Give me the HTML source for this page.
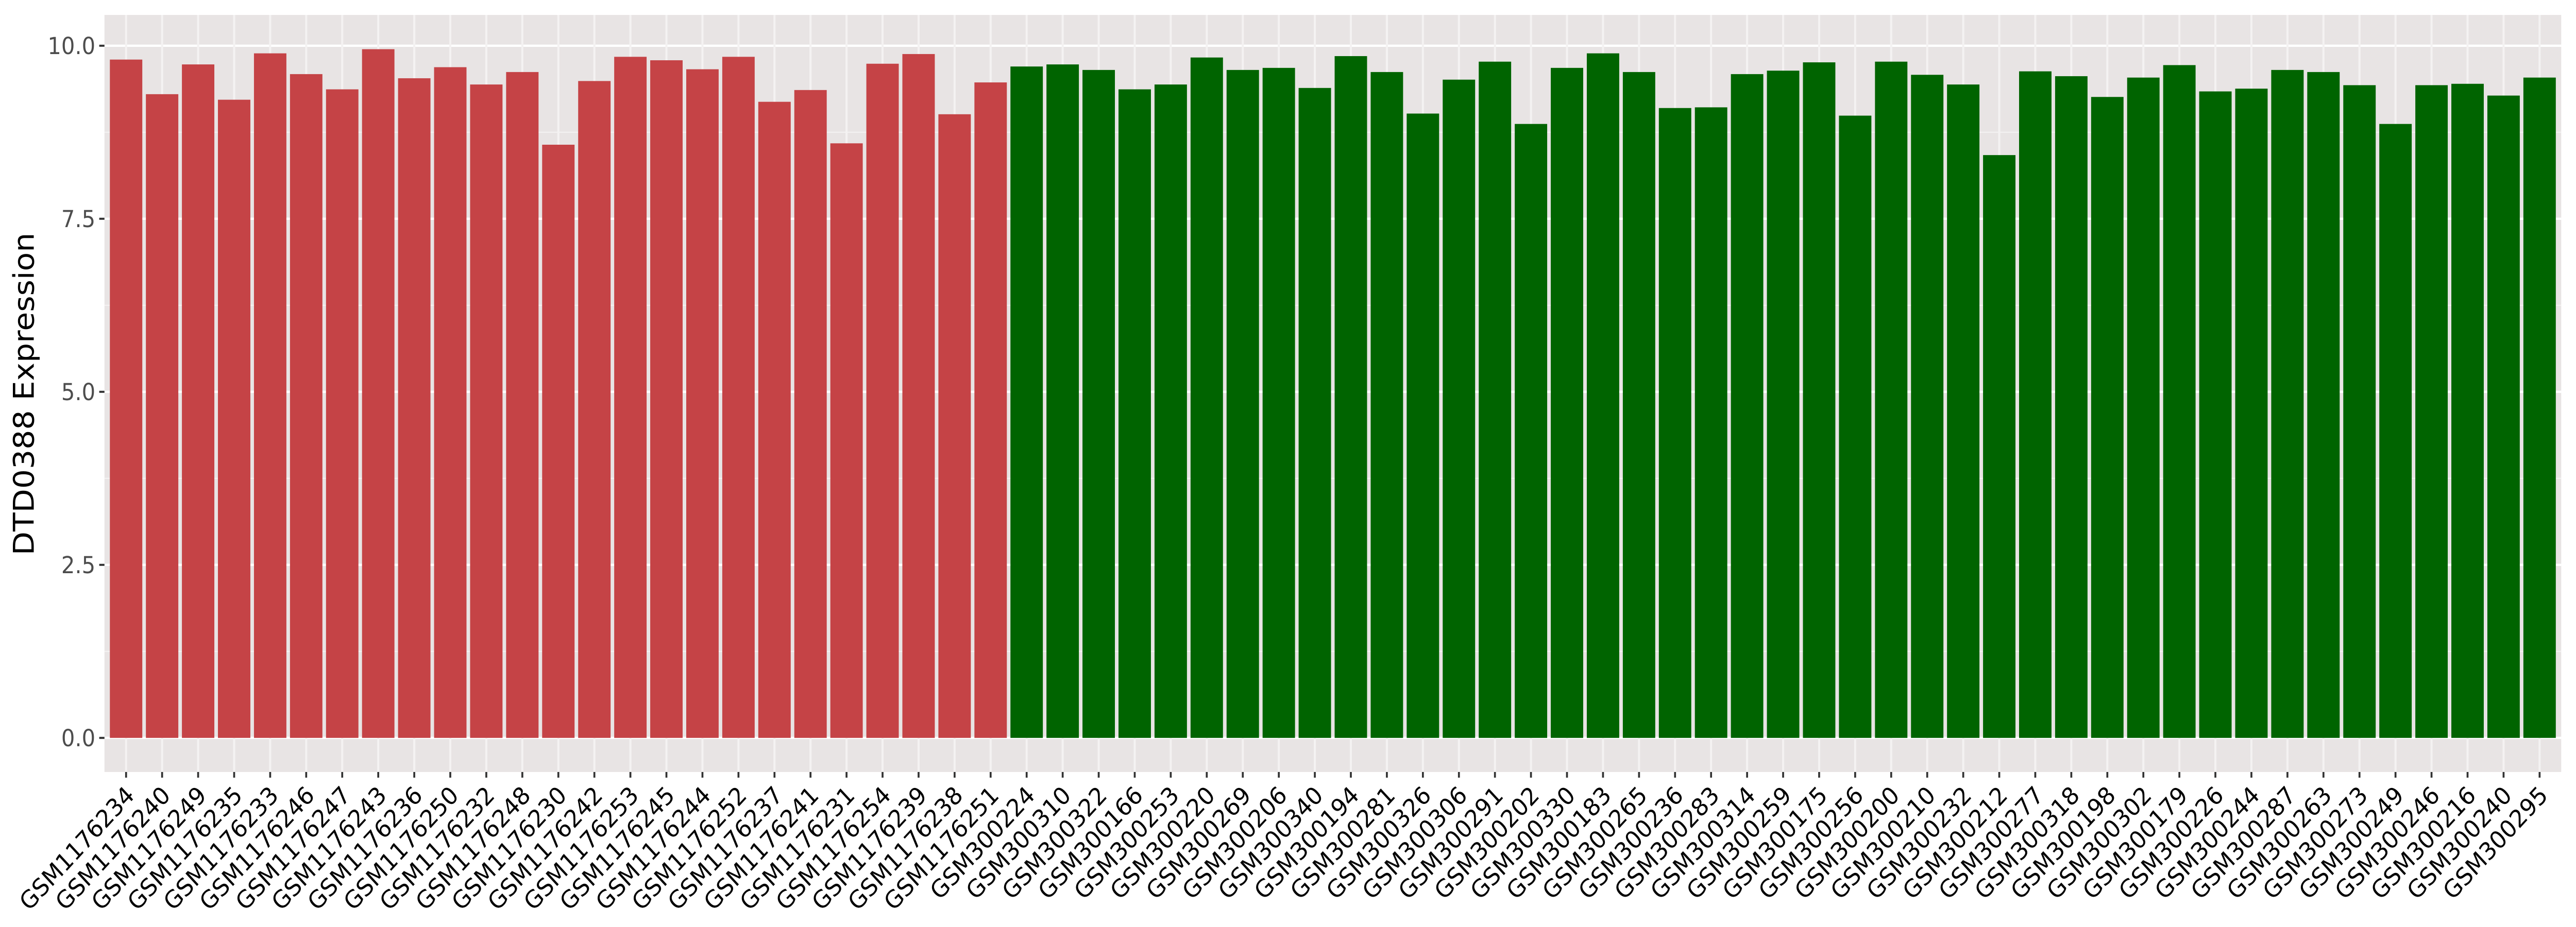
<!DOCTYPE html>
<html><head><meta charset="utf-8"><style>
html,body{margin:0;padding:0;background:#fff;width:100%;height:100%;overflow:hidden}
svg{display:block;width:100vw;height:100vh}
text{font-family:"DejaVu Sans","Liberation Sans",sans-serif}
</style></head><body>
<svg id="chart" viewBox="0 0 5400 1800" preserveAspectRatio="none" xmlns="http://www.w3.org/2000/svg">
<rect x="219" y="29" width="5150" height="1470" fill="#E8E4E4"/>
<g id="grid"></g><g id="bars"></g><g id="yaxis"></g><g id="xaxis"></g>
<text transform="translate(71,765) rotate(-90)" text-anchor="middle" font-size="60" fill="#000">DTD0388 Expression</text>
</svg>
<script>
const categories = ["GSM1176234","GSM1176240","GSM1176249","GSM1176235","GSM1176233","GSM1176246","GSM1176247","GSM1176243","GSM1176236","GSM1176250","GSM1176232","GSM1176248","GSM1176230","GSM1176242","GSM1176253","GSM1176245","GSM1176244","GSM1176252","GSM1176237","GSM1176241","GSM1176231","GSM1176254","GSM1176239","GSM1176238","GSM1176251",
"GSM300224","GSM300310","GSM300322","GSM300166","GSM300253","GSM300220","GSM300269","GSM300206","GSM300340","GSM300194","GSM300281","GSM300326","GSM300306","GSM300291","GSM300202","GSM300330","GSM300183","GSM300265","GSM300236","GSM300283","GSM300314","GSM300259","GSM300175","GSM300256","GSM300200","GSM300210","GSM300232","GSM300212","GSM300277","GSM300318","GSM300198","GSM300302","GSM300179","GSM300226","GSM300244","GSM300287","GSM300263","GSM300273","GSM300249","GSM300246","GSM300216","GSM300240","GSM300295"];
const values = [9.80,9.30,9.73,9.22,9.89,9.59,9.37,9.95,9.53,9.69,9.44,9.62,8.57,9.49,9.84,9.79,9.66,9.84,9.19,9.36,8.59,9.74,9.88,9.01,9.47,
9.70,9.73,9.65,9.37,9.44,9.83,9.65,9.68,9.39,9.85,9.62,9.02,9.51,9.77,8.87,9.68,9.89,9.62,9.10,9.11,9.59,9.64,9.76,8.99,9.77,9.58,9.44,8.42,9.63,9.56,9.26,9.54,9.72,9.34,9.38,9.65,9.62,9.43,8.87,9.43,9.45,9.28,9.54];
const groups = Array(25).fill("tumor").concat(Array(43).fill("normal"));
const yTicks = [0,2.5,5,7.5,10];
const yTickLabels = ["0.0","2.5","5.0","7.5","10.0"];
const yMinor = [1.25,3.75,6.25,8.75];

const NS="http://www.w3.org/2000/svg";
const L=219,R=5369,T=29,B=1499;
const step=(R-L)/(categories.length+0.2);
function xPos(i){return L+step*(0.6+i);}
function yPos(v){return 1432.8-v*134.4;}
function mk(tag,attrs,parent){const e=document.createElementNS(NS,tag);for(const k in attrs)e.setAttribute(k,attrs[k]);parent.appendChild(e);return e;}
const grid=document.getElementById('grid'),bars=document.getElementById('bars'),ya=document.getElementById('yaxis'),xa=document.getElementById('xaxis');
yMinor.forEach(v=>{const l=mk('line',{x1:L,x2:R,y1:yPos(v),y2:yPos(v),stroke:'#F4F2F2','stroke-width':2.2},grid);

});
yTicks.forEach((v,i)=>{const l=mk('line',{x1:L,x2:R,y1:yPos(v),y2:yPos(v),stroke:'#FFFFFF','stroke-width':4.4},grid);


const t=mk('line',{x1:208,x2:219,y1:yPos(v),y2:yPos(v),stroke:'#333','stroke-width':4},ya);


const tx=mk('text',{x:200,y:yPos(v)+16,'text-anchor':'end','font-size':45,fill:'#4D4D4D'},ya);
tx.textContent=yTickLabels[i];

});
categories.forEach((c,i)=>{const x=xPos(i);
const g=mk('line',{x1:x,x2:x,y1:T,y2:B,stroke:'#F4F2F2','stroke-width':4.4},grid);


const bw=step*0.9;
const r=mk('rect',{x:x-bw/2,y:yPos(values[i]),width:bw,height:yPos(0)-yPos(values[i]),fill:groups[i]==='tumor'?'#C54346':'#006400'},bars);


const t=mk('line',{x1:x,x2:x,y1:B,y2:B+11,stroke:'#333','stroke-width':4},xa);


const tx=mk('text',{x:0,y:0,'text-anchor':'end','font-size':47,fill:'#000',transform:'translate('+(x+20)+',1547) rotate(-45)'},xa);
tx.textContent=c;

});
</script>
</body></html>
